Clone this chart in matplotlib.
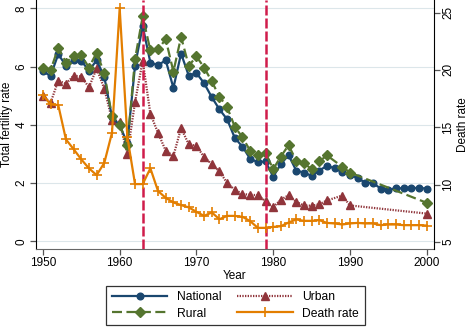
import matplotlib
matplotlib.use("Agg")
import matplotlib.pyplot as plt
import numpy as np

plt.rcParams['font.family'] = ['Liberation Sans', 'DejaVu Sans']

# ---------------------------------------------------------------
# Data
years_all = list(range(1950, 2001))
years_sub = list(range(1950, 1988)) + [1989, 1990, 2000]

national = [5.84, 5.68, 6.43, 6.03, 6.22, 6.20, 5.86, 6.22, 5.65, 4.27,
            3.99, 3.36, 6.03, 7.39, 6.14, 6.05, 6.22, 5.27, 6.45, 5.69,
            5.78, 5.43, 4.95, 4.53, 4.19, 3.55, 3.25, 2.83, 2.72, 2.74,
            2.22, 2.65, 2.96, 2.43, 2.36, 2.25, 2.43, 2.59, 2.51, 2.37,
            2.28, 2.17, 2.01, 2.00, 1.81, 1.77, 1.82, 1.82, 1.83, 1.83,
            1.81]

rural = [5.94, 5.88, 6.65, 6.14, 6.37, 6.39, 5.97, 6.48, 5.77, 4.29,
         4.01, 3.30, 6.26, 7.73, 6.56, 6.60, 6.94, 5.83, 7.02, 6.03,
         6.35, 5.97, 5.49, 4.97, 4.61, 3.93, 3.57, 3.11, 2.96, 3.03,
         2.48, 2.91, 3.30, 2.77, 2.68, 2.48, 2.74, 2.95, 2.56, 2.36,
         1.32]

urban = [5.00, 4.76, 5.52, 5.41, 5.69, 5.66, 5.29, 5.94, 5.24, 4.18,
         4.10, 3.00, 4.78, 6.20, 4.38, 3.72, 3.11, 2.93, 3.89, 3.33,
         3.28, 2.89, 2.65, 2.40, 2.00, 1.77, 1.62, 1.60, 1.58, 1.38,
         1.17, 1.43, 1.58, 1.35, 1.23, 1.22, 1.27, 1.40, 1.57, 1.23,
         0.95]

death_rate = [17.82, 17.00, 16.94, 13.95, 13.10, 12.21, 11.43, 10.84, 11.91, 14.53,
              25.37, 14.18, 10.06, 10.06, 11.43, 9.45, 8.86, 8.46, 8.23, 8.03,
              7.64, 7.29, 7.59, 7.00, 7.29, 7.29, 7.21, 6.83, 6.25, 6.25,
              6.33, 6.39, 6.71, 6.98, 6.86, 6.86, 6.92, 6.68, 6.63, 6.54,
              6.63, 6.68, 6.63, 6.63, 6.48, 6.54, 6.54, 6.48, 6.48, 6.48,
              6.45]

event_years = [1963, 1979]

# ---------------------------------------------------------------
# Colours (Stata s2color-like)
c_nat = '#1a476f'
c_urb = '#90353b'
c_rur = '#55752f'
c_dth = '#e37e00'
c_vline = '#d01c4b'
c_grid = '#dce6ea'

fig = plt.figure(figsize=(4.69, 3.32), dpi=100)
ax = fig.add_axes([36 / 469, 1 - 248.5 / 332, 398 / 469, 248.5 / 332])
ax2 = ax.twinx()

for yv in [0, 2, 4, 6, 8]:
    ax.axhline(yv, color=c_grid, lw=0.8, zorder=0)

l_nat, = ax.plot(years_all, national, color=c_nat, lw=1.6, marker='o',
                 ms=4.8, zorder=4, label='National')
l_urb, = ax.plot(years_sub, urban, color=c_urb, lw=1.6, ls=(0, (0.6, 0.6)),
                 marker='^', ms=5.4, zorder=3, label='Urban')
l_rur, = ax.plot(years_sub, rural, color=c_rur, lw=1.6, ls=(0, (4.5, 2)),
                 marker='D', ms=5.0, zorder=5, label='Rural')
l_dth, = ax2.plot(years_all, death_rate, color=c_dth, lw=1.6, marker='+',
                  ms=7, mew=1.2, zorder=3, label='Death rate')

for yr in event_years:
    ax.axvline(yr, color=c_vline, lw=1.8, ls=(0, (4, 1.2)), zorder=6)

ax.set_xlim(1949.1, 2000.95)
ax.set_ylim(-0.25, 8.29)
ax2.set_ylim(4.45, 26.09)

ax.set_xticks([1950, 1960, 1970, 1980, 1990, 2000])
ax.set_yticks([0, 2, 4, 6, 8])
ax2.set_yticks([5, 10, 15, 20, 25])

for a in (ax, ax2):
    a.spines['top'].set_visible(False)
ax.spines['right'].set_visible(False)
ax.spines['bottom'].set_color('#666666')
ax.spines['left'].set_color('black')
ax2.spines['right'].set_color('black')
ax2.spines['left'].set_visible(False)
ax2.spines['bottom'].set_visible(False)

ax.tick_params(axis='both', labelsize=8.5, length=4, width=0.9, color='#555555', pad=2)
ax2.tick_params(axis='y', labelsize=8.5, length=4, width=0.9, color='#555555', pad=2)
plt.setp(ax.get_yticklabels(), rotation=90, va='center')
plt.setp(ax2.get_yticklabels(), rotation=90, va='center')

ax.set_xlabel('Year', fontsize=8.5, labelpad=1)
ax.set_ylabel('Total fertility rate', fontsize=8.5, labelpad=2)
ax2.set_ylabel('Death rate', fontsize=8.5, labelpad=2)

leg = fig.legend([l_nat, l_rur, l_urb, l_dth],
                 ['National', 'Rural', 'Urban', 'Death rate'],
                 ncol=2, loc='lower center', bbox_to_anchor=(0.502, 0.003),
                 fontsize=8.7, frameon=True, fancybox=False, handlelength=4.6,
                 columnspacing=1.3, handletextpad=0.8, borderpad=0.45,
                 labelspacing=0.35)
leg.get_frame().set_edgecolor('black')
leg.get_frame().set_linewidth(0.9)

fig.savefig('out.png', dpi=100)
